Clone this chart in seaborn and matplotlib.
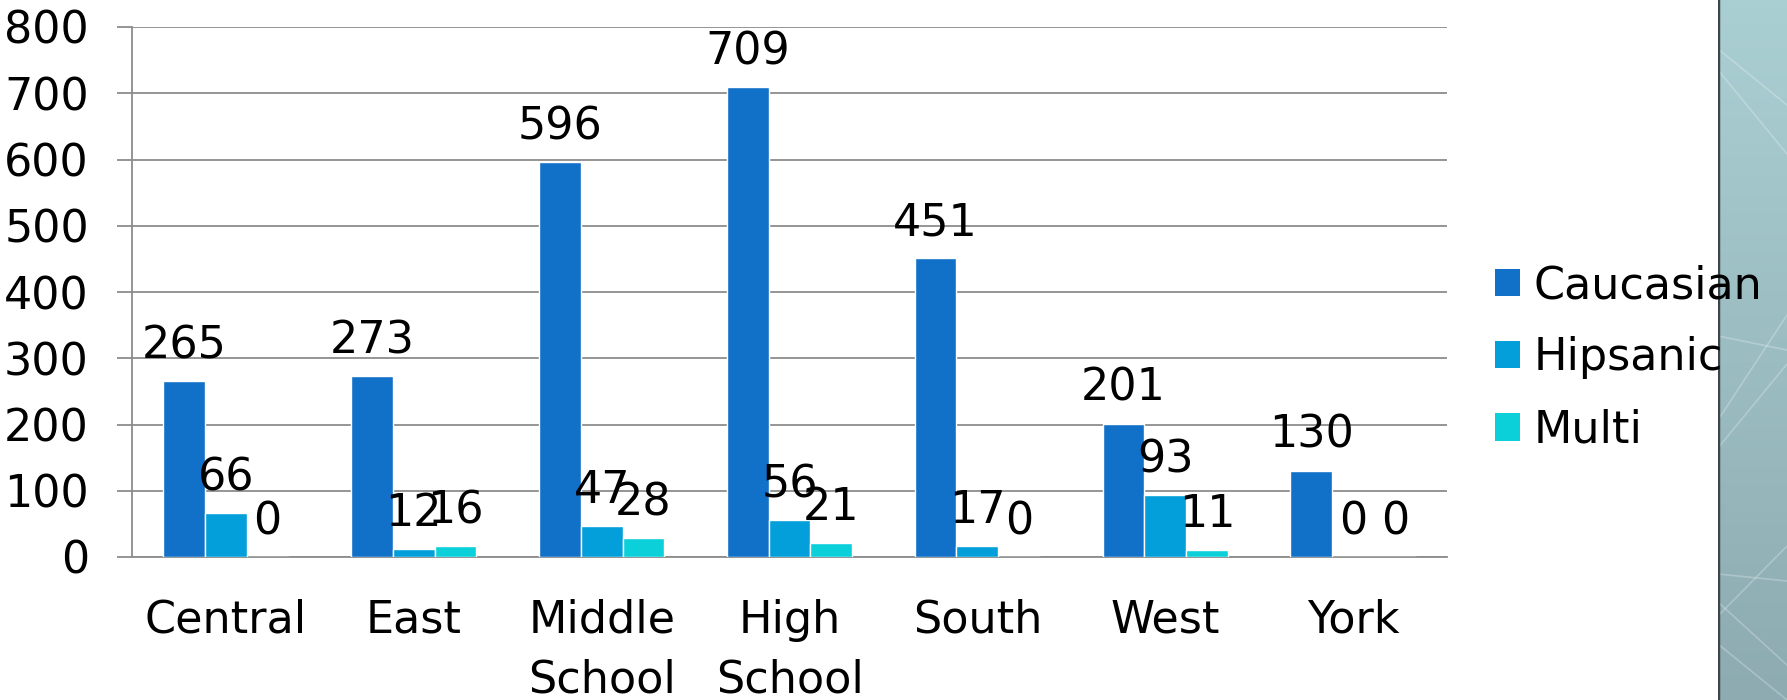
import numpy as np
import pandas as pd
import matplotlib
matplotlib.use("Agg")
import matplotlib.pyplot as plt
from matplotlib.patches import Patch
import seaborn as sns

# Enrollment by building and ethnicity
schools = ["Central", "East", "Middle\nSchool", "High\nSchool", "South", "West", "York"]
caucasian = [265, 273, 596, 709, 451, 201, 130]
hispanic = [66, 12, 47, 56, 17, 93, 0]
multi = [0, 16, 28, 21, 0, 11, 0]
groups = ["Caucasian", "Hipsanic", "Multi"]
colors = ["#1170C8", "#039FDA", "#0BCFD9"]
y_ticks = [0, 100, 200, 300, 400, 500, 600, 700, 800]

df = pd.DataFrame({
    "school": schools * 3,
    "group": [g for g in groups for _ in schools],
    "count": caucasian + hispanic + multi,
})

sns.set_theme(style="white")
plt.rcParams["font.family"] = ["DejaVu Sans"]
plt.rcParams["text.color"] = "black"
plt.rcParams["xtick.labelcolor"] = "black"
plt.rcParams["ytick.labelcolor"] = "black"

W, H = 1787, 700
fig = plt.figure(figsize=(W / 100, H / 100), dpi=100)
fig.patch.set_facecolor("white")

# decorative side panel
pax = fig.add_axes([1718 / W, 0, (W - 1718) / W, 1], zorder=0)
grad = np.linspace(0, 1, 256)[:, None]
cmap = matplotlib.colors.LinearSegmentedColormap.from_list("panel", ["#AACFD3", "#8DABB1"])
pax.imshow(grad, aspect="auto", cmap=cmap, extent=[0, 1, 0, 1], origin="upper")
for (x0, y0, x1, y1) in [(0, 0.93, 1, 0.85), (0, 0.90, 1, 0.78), (0, 0.52, 1, 0.50),
                         (0, 0.36, 1, 0.48), (0, 0.40, 1, 0.55), (0, 0.18, 1, 0.17),
                         (0, 0.12, 1, 0.22), (0, 0.08, 1, 0.0), (0, 0.14, 1, 0.05)]:
    pax.plot([x0, x1], [y0, y1], color="white", alpha=0.25, lw=1.2)
pax.axvline(0.005, color="#3E4447", lw=2.5)
pax.set_xlim(0, 1)
pax.set_ylim(0, 1)
pax.axis("off")

ax = fig.add_axes([132 / W, 143 / H, 1315 / W, 530 / H], zorder=1)
ax.patch.set_alpha(0)

sns.barplot(data=df, x="school", y="count", hue="group", palette=colors,
            width=0.667, gap=0, saturation=1, legend=False, ax=ax, zorder=3)

fs = 32
grid_c = "#8C8C8C"
for c in ax.containers:
    ax.bar_label(c, fontsize=fs, padding=10, color="black")

ax.set_ylim(0, 800)
ax.set_xlim(-0.5, len(schools) - 0.5)
ax.set_yticks(y_ticks)
ax.set_yticklabels([str(v) for v in y_ticks], fontsize=fs, color="black")
ax.yaxis.grid(True, color=grid_c, lw=1.3, zorder=0)
ax.set_axisbelow(True)
ax.set_xlabel("")
ax.set_ylabel("")

ax.set_xticks(range(len(schools)))
ax.set_xticklabels(schools, fontsize=fs, linespacing=1.5, color="black")
ax.set_xticks(np.arange(-0.5, len(schools), 1), minor=True)
ax.tick_params(axis="x", which="major", length=0, pad=30)
ax.tick_params(axis="x", which="minor", length=11.5, width=1.3, color=grid_c, direction="out")
ax.tick_params(axis="y", length=11, width=1.3, color=grid_c, pad=20, left=True)

for s in ["top", "right"]:
    ax.spines[s].set_visible(False)
for s in ["left", "bottom"]:
    ax.spines[s].set_color(grid_c)
    ax.spines[s].set_linewidth(1.3)

handles = [Patch(facecolor=c, edgecolor="none") for c in colors]
leg = ax.legend(handles, groups, loc="center left",
                bbox_to_anchor=(1495 / W, 1 - 358 / H), bbox_transform=fig.transFigure,
                frameon=False, fontsize=fs, handlelength=0.57, handleheight=0.57,
                handletextpad=0.3, labelspacing=0.66, borderaxespad=0, borderpad=0)
for t in leg.get_texts():
    t.set_color("black")

fig.savefig("out.png", dpi=100)
